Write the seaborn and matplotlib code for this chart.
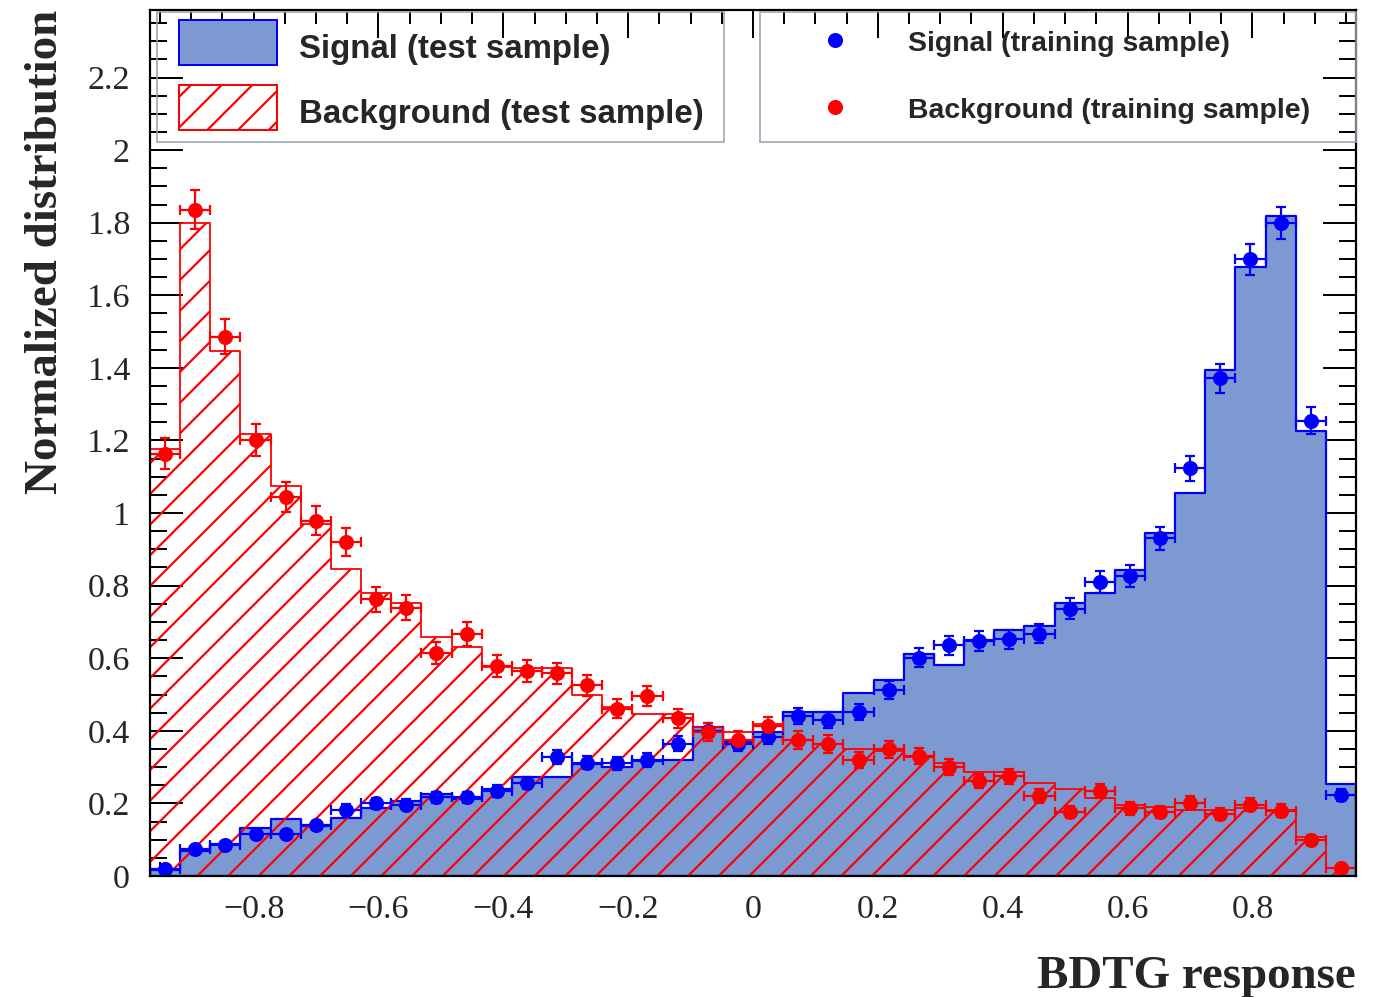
import numpy as np
import pandas as pd
import matplotlib
matplotlib.use("Agg")
import matplotlib.pyplot as plt
from matplotlib.ticker import MultipleLocator, FuncFormatter
from matplotlib.patches import Patch, Rectangle
from matplotlib.lines import Line2D
from matplotlib.legend_handler import HandlerPatch
import seaborn as sns

# ---------------------------------------------------------------------------
# Classifier output binning
x_min, x_max, n_bins = -0.966, 0.966, 40

# Test-sample histograms (normalised)
sig_test = [0.017, 0.069, 0.088, 0.131, 0.157, 0.139, 0.161, 0.186, 0.207, 0.226,
            0.213, 0.241, 0.272, 0.274, 0.309, 0.300, 0.317, 0.320, 0.411, 0.370,
            0.397, 0.452, 0.452, 0.503, 0.541, 0.611, 0.581, 0.650, 0.679, 0.689,
            0.753, 0.779, 0.843, 0.946, 1.056, 1.394, 1.677, 1.818, 1.227, 0.253]
bkg_test = [1.176, 1.800, 1.447, 1.218, 1.074, 0.969, 0.845, 0.780, 0.753, 0.659,
            0.631, 0.575, 0.572, 0.572, 0.499, 0.466, 0.446, 0.446, 0.411, 0.397,
            0.420, 0.375, 0.365, 0.351, 0.345, 0.328, 0.312, 0.287, 0.287, 0.257,
            0.241, 0.215, 0.196, 0.191, 0.183, 0.182, 0.186, 0.182, 0.108, 0.021]

# Training-sample points with statistical uncertainties
sig_train = [0.019, 0.074, 0.085, 0.116, 0.116, 0.140, 0.183, 0.200, 0.196, 0.217,
             0.217, 0.235, 0.257, 0.327, 0.312, 0.310, 0.320, 0.365, 0.400, 0.365,
             0.384, 0.441, 0.430, 0.452, 0.512, 0.602, 0.636, 0.647, 0.652, 0.668,
             0.737, 0.810, 0.826, 0.930, 1.123, 1.371, 1.699, 1.798, 1.254, 0.223]
sig_train_err = [0.005, 0.009, 0.010, 0.011, 0.011, 0.012, 0.014, 0.015, 0.015, 0.015,
                 0.015, 0.016, 0.017, 0.019, 0.018, 0.018, 0.019, 0.020, 0.021, 0.020,
                 0.020, 0.022, 0.022, 0.022, 0.024, 0.026, 0.026, 0.027, 0.027, 0.027,
                 0.028, 0.030, 0.030, 0.032, 0.035, 0.039, 0.043, 0.044, 0.037, 0.016]
bkg_train = [1.163, 1.836, 1.486, 1.201, 1.045, 0.979, 0.921, 0.762, 0.739, 0.615,
             0.668, 0.579, 0.565, 0.558, 0.526, 0.461, 0.496, 0.434, 0.397, 0.375,
             0.413, 0.375, 0.364, 0.320, 0.349, 0.331, 0.299, 0.262, 0.275, 0.220,
             0.177, 0.235, 0.186, 0.177, 0.202, 0.171, 0.196, 0.180, 0.099, 0.021]
bkg_train_err = [0.043, 0.054, 0.048, 0.044, 0.041, 0.040, 0.038, 0.035, 0.034, 0.031,
                 0.033, 0.030, 0.030, 0.030, 0.029, 0.027, 0.028, 0.026, 0.025, 0.024,
                 0.026, 0.024, 0.024, 0.023, 0.024, 0.023, 0.022, 0.020, 0.021, 0.019,
                 0.017, 0.019, 0.017, 0.017, 0.018, 0.017, 0.018, 0.017, 0.013, 0.006]

x_ticks_step, y_max = 0.2, 2.386
labels_test = ["Signal (test sample)", "Background (test sample)"]
labels_train = ["Signal (training sample)", "Background (training sample)"]

# ---------------------------------------------------------------------------
W, H, DPI = 1377, 997, 184
PX = 72.0 / DPI          # points per pixel

SIG_FILL = "#7d99d1"
SIG_LINE = "#0000ff"
BKG_LINE = "#ff0000"
HATCH = "//"

sns.set_style("ticks")
plt.rcParams["font.family"] = ["Liberation Serif", "DejaVu Serif"]
plt.rcParams["hatch.linewidth"] = 2.2 * PX
plt.rcParams["hatch.color"] = BKG_LINE
plt.rcParams["axes.unicode_minus"] = True

fig = plt.figure(figsize=(W / DPI, H / DPI), dpi=DPI)
ax = fig.add_axes([150 / W, (H - 876) / H, 1206 / W, 866 / H])

edges = np.linspace(x_min, x_max, n_bins + 1)
centers = 0.5 * (edges[:-1] + edges[1:])
half_width = 0.5 * np.diff(edges)

df = pd.DataFrame({"response": centers, "sig": sig_test, "bkg": bkg_test})

# Signal test histogram: filled
sns.histplot(data=df, x="response", weights="sig", bins=n_bins,
             binrange=(x_min, x_max), element="step", color=SIG_LINE,
             fill=True, facecolor=SIG_FILL, edgecolor=SIG_LINE,
             linewidth=2.2 * PX, ax=ax, zorder=2)
# Background test histogram: hatched
sns.histplot(data=df, x="response", weights="bkg", bins=n_bins,
             binrange=(x_min, x_max), element="step", color=BKG_LINE,
             fill=True, facecolor="none", edgecolor=BKG_LINE, hatch=HATCH,
             linewidth=1.8 * PX, ax=ax, zorder=3)

# Training samples as points with error bars
eb_kw = dict(fmt="o", ms=12.5 * PX, capsize=5 * PX, elinewidth=2.2 * PX,
             capthick=2.2 * PX, zorder=5)
ax.errorbar(centers, sig_train, xerr=half_width, yerr=sig_train_err,
            color=SIG_LINE, **eb_kw)
ax.errorbar(centers, bkg_train, xerr=half_width, yerr=bkg_train_err,
            color=BKG_LINE, **eb_kw)

ax.set_xlim(x_min, x_max)
ax.set_ylim(0, y_max)

# Axis frame and ticks
for sp in ax.spines.values():
    sp.set_linewidth(2.2 * PX)
    sp.set_color("black")
    sp.set_zorder(10)
ax.xaxis.set_major_locator(MultipleLocator(x_ticks_step))
ax.xaxis.set_minor_locator(MultipleLocator(0.05))
ax.yaxis.set_major_locator(MultipleLocator(0.2))
ax.yaxis.set_minor_locator(MultipleLocator(0.05))
fmt = FuncFormatter(lambda v, p: ("%g" % round(v, 3)).replace("-", "\u2212"))
ax.xaxis.set_major_formatter(fmt)
ax.yaxis.set_major_formatter(fmt)
ax.tick_params(which="both", direction="in", top=True, right=True,
               width=2 * PX, color="black", labelsize=34 * PX)
ax.tick_params(axis="x", which="major", length=28 * PX, pad=19 * PX)
ax.tick_params(axis="x", which="minor", length=14 * PX)
ax.tick_params(axis="y", which="major", length=33 * PX, pad=20 * PX)
ax.tick_params(axis="y", which="minor", length=17 * PX)
ax.grid(False)

# Axis titles
ax.set_xlabel("BDTG response", fontsize=47 * PX, fontweight="bold", loc="right")
ax.xaxis.label.set_verticalalignment("baseline")
ax.xaxis.set_label_coords(1.0, -(988 - 876) / 866)
ax.set_ylabel("Normalized distribution", fontsize=47 * PX, fontweight="bold", loc="top")
ax.yaxis.label.set_verticalalignment("baseline")
ax.yaxis.set_label_coords(-(150 - 57) / 1206, 1.0)

# Legends
leg_font = {"family": ["Liberation Sans", "DejaVu Sans"], "weight": "bold"}
fs_test = 33.0
box_h = 45.0
box_lift = 5.0 * PX      # raise the swatch a little above the text baseline
# legend box height = fs*hh - 0.35*fs*(hh - 0.7)
hh = (box_h / fs_test - 0.245) / 0.65


def lifted_box(legend, orig_handle, xdescent, ydescent, width, height, fontsize):
    return Rectangle((-xdescent, -ydescent + box_lift), width, height)


h_test = [Patch(facecolor=SIG_FILL, edgecolor=SIG_LINE, linewidth=2 * PX),
          Patch(facecolor="none", edgecolor=BKG_LINE, hatch=HATCH, linewidth=2 * PX)]
leg1 = ax.legend(h_test, labels_test, loc="upper left",
                 bbox_to_anchor=(179 / W, 1 - 25 / H), bbox_transform=fig.transFigure,
                 frameon=False, borderpad=0, borderaxespad=0,
                 handlelength=98 / fs_test, handleheight=hh,
                 handletextpad=22 / fs_test, labelspacing=20 / fs_test,
                 handler_map={Patch: HandlerPatch(patch_func=lifted_box)},
                 prop={**leg_font, "size": fs_test * PX})
ax.add_artist(leg1)

fs_train = 28.4
h_train = [Line2D([], [], ls="none", marker="o", ms=12.5 * PX, color=SIG_LINE),
           Line2D([], [], ls="none", marker="o", ms=12.5 * PX, color=BKG_LINE)]
leg2 = ax.legend(h_train, labels_train, loc="upper left",
                 bbox_to_anchor=(807 / W, 1 - 29 / H), bbox_transform=fig.transFigure,
                 frameon=False, borderpad=0, borderaxespad=0,
                 handlelength=2.0, handleheight=1.0, numpoints=1,
                 handletextpad=44.6 / fs_train, labelspacing=38 / fs_train,
                 prop={**leg_font, "size": fs_train * PX})

# Legend frames
for x0, x1 in [(157, 724), (760, 1356)]:
    fig.patches.append(Rectangle((x0 / W, 1 - 142 / H), (x1 - x0) / W, 130 / H,
                                 transform=fig.transFigure, fill=False,
                                 edgecolor="#98a4b4", linewidth=1.6 * PX, zorder=1))

fig.savefig("out.png", dpi=DPI)
